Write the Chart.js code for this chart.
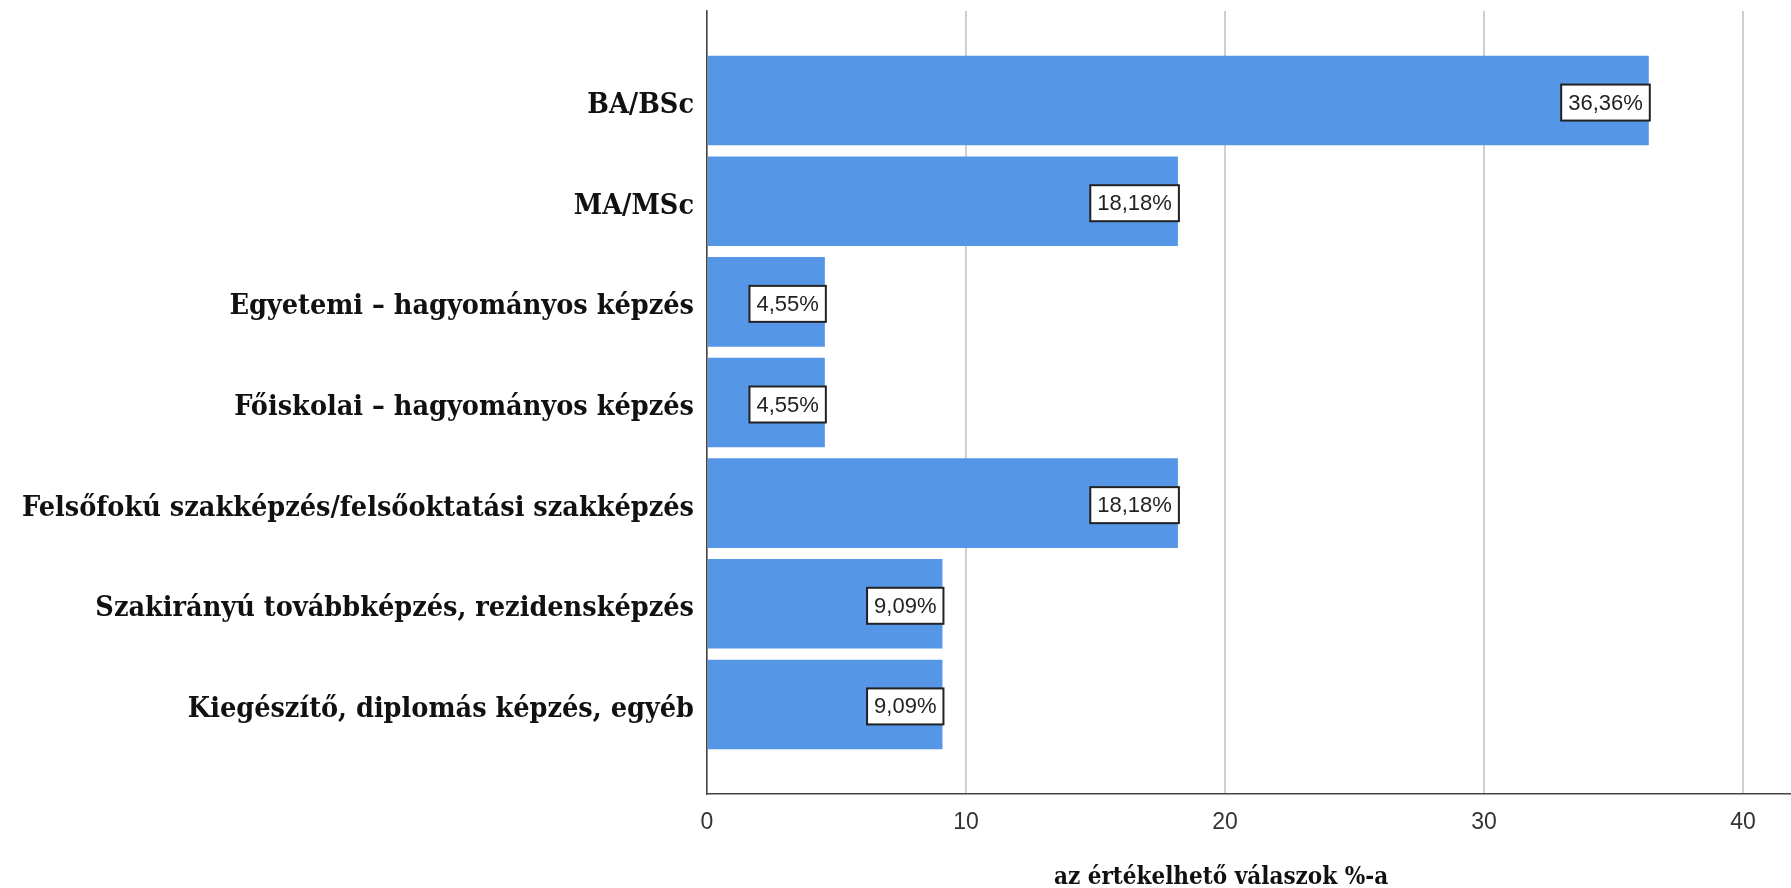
<!DOCTYPE html>
<html>
<head>
<meta charset="utf-8">
<script src="https://cdn.jsdelivr.net/npm/chart.js@4"></script>
<style>
  html, body { margin: 0; padding: 0; background: #fff; }
  #wrap { width: 1791px; height: 888px; }
</style>
</head>
<body>
<div id="wrap"><canvas id="chart" width="1791" height="888"></canvas></div>
<script>
const categories = [
  'BA/BSc',
  'MA/MSc',
  'Egyetemi – hagyományos képzés',
  'Főiskolai – hagyományos képzés',
  'Felsőfokú szakképzés/felsőoktatási szakképzés',
  'Szakirányú továbbképzés, rezidensképzés',
  'Kiegészítő, diplomás képzés, egyéb'
];
const percents = [36.36, 18.18, 4.55, 4.55, 18.18, 9.09, 9.09];
const xTicks = [0, 10, 20, 30, 40];
const xTitle = 'az értékelhető válaszok %-a';

const serif = '"DejaVu Serif Condensed", "DejaVu Serif", serif';
const sans = '"Liberation Sans", Arial, sans-serif';

// white boxed value labels, right edge at bar end, plus the x axis title
const boxLabels = {
  id: 'boxLabels',
  afterDatasetsDraw(chart) {
    const ctx = chart.ctx;
    const meta = chart.getDatasetMeta(0);
    ctx.save();
    ctx.font = '22px ' + sans;
    ctx.textBaseline = 'middle';
    ctx.textAlign = 'center';
    meta.data.forEach((bar, i) => {
      const txt = percents[i].toFixed(2).replace('.', ',') + '%';
      const w = ctx.measureText(txt).width + 14;
      const h = 36;
      const right = bar.x + 1;
      const x0 = right - w;
      const y0 = bar.y - h / 2 + 2;
      ctx.fillStyle = '#fff';
      ctx.fillRect(x0, y0, w, h);
      ctx.strokeStyle = '#222';
      ctx.lineWidth = 2;
      ctx.strokeRect(x0, y0, w, h);
      ctx.fillStyle = '#222';
      ctx.fillText(txt, x0 + w / 2, y0 + h / 2 + 1);
    });
    // axis title, centred near the 20 tick as in the original
    const xs = chart.scales.x;
    ctx.font = 'bold 24px ' + serif;
    ctx.fillStyle = '#111';
    ctx.fillText(xTitle, xs.getPixelForValue(20) - 4, 878);
    ctx.restore();
  }
};

new Chart(document.getElementById('chart'), {
  type: 'bar',
  data: {
    datasets: [{
      data: percents.map((v, i) => ({ x: v, y: i })),
      backgroundColor: 'rgb(85,150,230)',
      borderWidth: 0,
      barPercentage: 0.89,
      categoryPercentage: 1
    }]
  },
  options: {
    indexAxis: 'y',
    responsive: false,
    animation: false,
    layout: { padding: { top: 11, right: 0, left: 0, bottom: 0 } },
    plugins: { legend: { display: false }, tooltip: { enabled: false } },
    scales: {
      y: {
        type: 'linear',
        reverse: true,
        offset: false,
        min: -0.89,
        max: 6.89,
        afterBuildTicks: (scale) => { scale.ticks = categories.map((c, i) => ({ value: i })); },
        afterFit: (scale) => {
          scale.width = 707;
          scale.paddingTop = 0;
          scale.paddingBottom = 0;
        },
        grid: { display: false, drawTicks: false, offset: false },
        border: { color: '#444', width: 1.5 },
        ticks: {
          autoSkip: false,
          padding: 13,
          labelOffset: 5,
          color: '#111',
          font: { family: serif, size: 28.5, weight: 'bold' },
          callback: (v) => categories[v]
        }
      },
      x: {
        type: 'linear',
        min: 0,
        max: 41.85,
        afterBuildTicks: (scale) => { scale.ticks = xTicks.map(v => ({ value: v })); },
        afterFit: (scale) => { scale.height = 94; },
        grid: { color: '#cfcfcf', lineWidth: 2, drawTicks: false },
        border: { color: '#444', width: 1.5 },
        ticks: {
          padding: 15,
          color: '#333',
          font: { family: sans, size: 23 }
        }
      }
    }
  },
  plugins: [boxLabels]
});
</script>
</body>
</html>
